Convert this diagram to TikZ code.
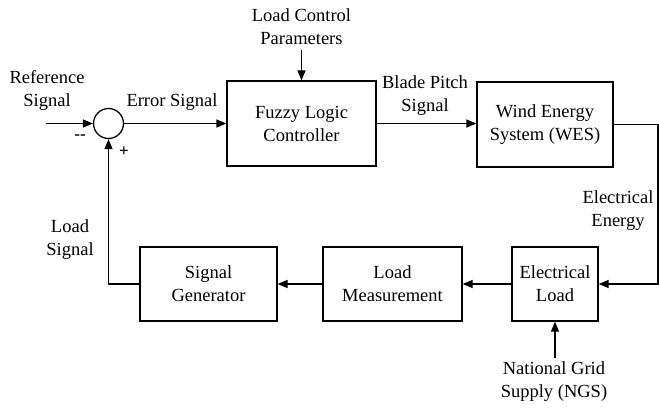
\documentclass[tikz,border=0pt]{standalone}
\usepackage{fontspec}
\setmainfont{Liberation Serif}
\newfontfamily\timesfont{Liberation Serif}
\usetikzlibrary{arrows.meta,positioning}
\tikzset{
    block/.style={draw, inner sep=0pt, line width=1.3pt},
    sign/.style={font=\timesfont\fontsize{17}{18}\selectfont\bfseries, inner sep=0pt}
}

\begin{document}
\begin{tikzpicture}[x=1pt, y=-1pt, line width=1.3pt, >={Triangle[length=10pt,width=8pt]}]
    \tikzstyle{every node}=[font=\timesfont\fontsize{18.5}{23}\selectfont, align=center];
    \useasboundingbox (0,0) rectangle (659,410);
    % blocks
    \node[draw, circle, minimum size=30pt, inner sep=0pt] (sum) at (108.5,123.5) {};
    \node[block, minimum width=149pt, minimum height=85pt] (flc) at (301.5,123.5) {Fuzzy Logic\\Controller};
    \node[block, minimum width=136pt, minimum height=85pt] (wes) at (545,124.5) {Wind Energy\\System (WES)};
    \node[block, minimum width=86pt, minimum height=74pt] (el) at (555,284) {Electrical\\Load};
    \node[block, minimum width=139pt, minimum height=74pt] (lm) at (392.5,284) {Load\\Measurement};
    \node[block, minimum width=137pt, minimum height=74pt] (sg) at (208.5,284) {Signal\\Generator};
    % free ends and corners
    \coordinate (ref) at (46,123.5);
    \coordinate (lcp) at (301.5,50);
    \coordinate (c1) at (658,124.5);
    \coordinate (c2) at (658,284);
    \coordinate (c3) at (108.5,284);
    \coordinate (ngs) at (555,358);
    % connectors
    \draw[->] (ref) -- (sum);
    \draw[->] (sum) -- (flc);
    \draw[->] (lcp) -- (flc);
    \draw[->] (flc) -- (flc -| wes.west);
    \draw[->] (wes.east) -- (c1) -- (c2) -- (el.east);
    \draw[->] (el) -- (lm);
    \draw[->] (lm) -- (sg);
    \draw[->] (sg.west) -- (c3) -- (sum.south);
    \draw[->] (ngs) -- (el.south);
    % labels
    \node (lref) at (47,90) {Reference\\Signal};
    \node (lerr) at (172,102) {Error Signal};
    \node (llcp) at (301.5,27) {Load Control\\Parameters};
    \node (lbps) at (425,96) {Blade Pitch\\Signal};
    \node (lee) at (618,211) {Electrical\\Energy};
    \node (lngs) at (554,382) {National Grid\\Supply (NGS)};
    \node (lls) at (70,240) {Load\\Signal};
    \node[sign] (minus) at (80,137) {-{}-};
    \node[sign] (plus) at (124,152) {+};
\end{tikzpicture}
\end{document}
